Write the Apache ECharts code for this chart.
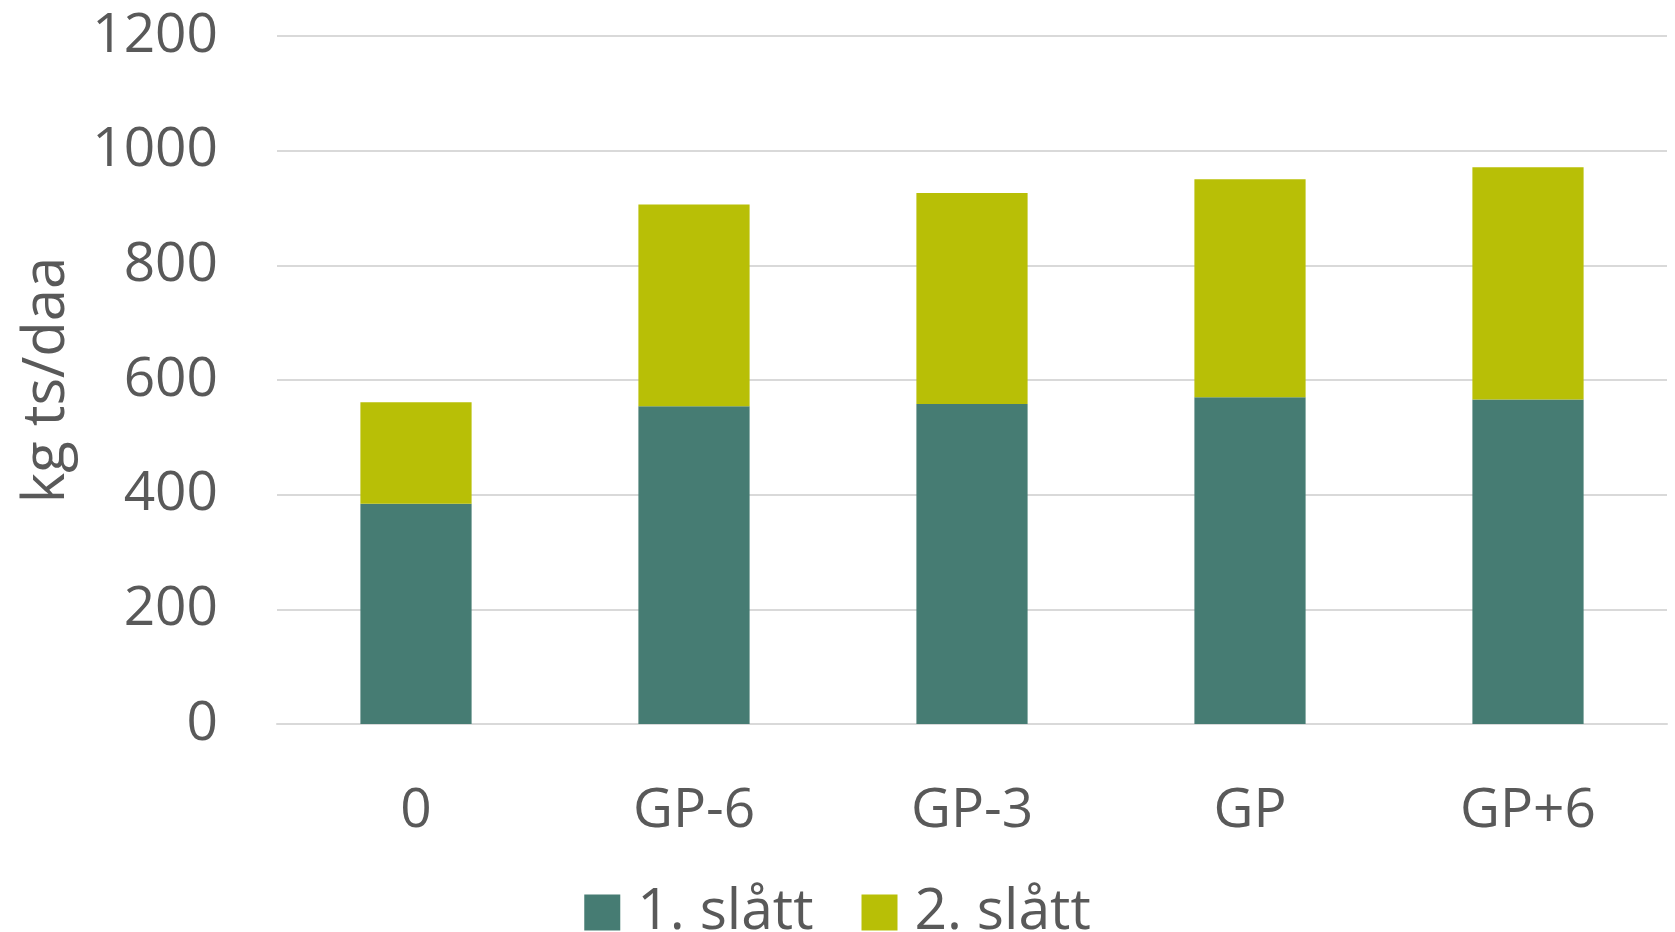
<!DOCTYPE html>
<html>
<head>
<meta charset="utf-8">
<script src="https://cdn.jsdelivr.net/npm/echarts@6/dist/echarts.min.js"></script>
<style>
  html, body { margin: 0; padding: 0; background: #ffffff; }
  #chart { width: 1675px; height: 932px; }
</style>
</head>
<body>
<div id="chart"></div>
<script>
// Yield per treatment, split by cut (kg dry matter per decare)
const categories = ['0', 'GP-6', 'GP-3', 'GP', 'GP+6'];
const firstCut = [384, 554, 558, 570, 566];
const secondCut = [177, 352, 368, 380, 405];
const seriesNames = ['1. slått', '2. slått'];
const yTicks = { min: 0, max: 1200, interval: 200 };

const textColor = '#595959';
const fontFamily = '"Open Sans", Carlito, Calibri, sans-serif';
const fontSize = 55;

const chart = echarts.init(document.getElementById('chart'));
chart.setOption({
  animation: false,
  backgroundColor: '#ffffff',
  textStyle: { fontFamily: fontFamily, color: textColor },
  grid: { left: 277, right: 8, top: 36, bottom: 208, containLabel: false, outerBoundsMode: 'none' },
  legend: {
    top: 879,
    left: 'center',
    itemWidth: 36,
    itemHeight: 36,
    itemGap: 48,
    icon: 'rect',
    textStyle: { fontSize: 57, color: textColor, fontFamily: fontFamily, padding: [0, 0, 0, 12] },
    data: seriesNames
  },
  xAxis: {
    type: 'category',
    data: categories,
    axisLine: { show: true, lineStyle: { color: '#D9D9D9', width: 2 } },
    axisTick: { show: false },
    axisLabel: { fontSize: fontSize, color: textColor, margin: 60, fontFamily: fontFamily }
  },
  yAxis: {
    type: 'value',
    min: yTicks.min,
    max: yTicks.max,
    interval: yTicks.interval,
    name: 'kg ts/daa',
    nameLocation: 'middle',
    nameGap: 201,
    nameRotate: 90,
    nameTextStyle: { fontSize: 58, color: textColor, fontFamily: fontFamily },
    axisLine: { show: false },
    axisTick: { show: false },
    axisLabel: {
      fontSize: fontSize, color: textColor, margin: 59, fontFamily: fontFamily,
      formatter: (v) => String(v)
    },
    splitLine: { lineStyle: { color: '#D9D9D9', width: 2 } }
  },
  series: [
    {
      name: seriesNames[0],
      type: 'bar',
      stack: 'total',
      barWidth: '40%',
      itemStyle: { color: '#467C73' },
      data: firstCut
    },
    {
      name: seriesNames[1],
      type: 'bar',
      stack: 'total',
      barWidth: '40%',
      itemStyle: { color: '#B8BF06' },
      data: secondCut
    }
  ]
});
</script>
</body>
</html>
